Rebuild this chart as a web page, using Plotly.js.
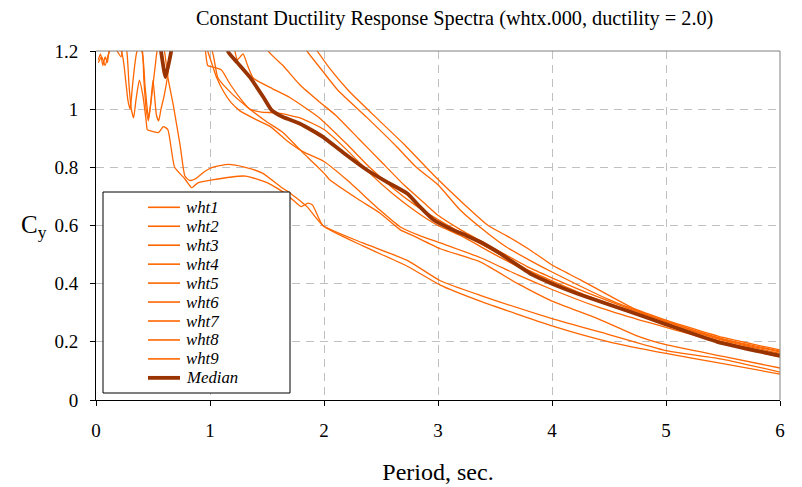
<!DOCTYPE html>
<html>
<head>
<meta charset="utf-8">
<script src="https://cdn.plot.ly/plotly-3.0.1.min.js"></script>
<style>html,body{margin:0;padding:0;background:#fff;}#chart{width:802px;height:487px;}</style>
</head>
<body>
<div id="chart"></div>
<script>
// ---- data: period (sec) and Cy for each record ----
const wht1T = [0.02,0.1,0.3,0.6,1.0,1.5,1.94,2.05,2.21,2.46,2.7,2.97,3.21,3.44,3.6,3.83,4.0,4.25,4.71,5.0,5.5,6.0];
const wht1C = [1.35,1.5,1.7,1.9,1.7,1.45,1.2,1.14,1.066,0.97,0.88,0.77,0.68,0.60,0.565,0.51,0.464,0.413,0.316,0.275,0.215,0.172];

const wht2T = [0.02,0.2,0.5,1.0,1.5,1.85,1.99,2.12,2.38,2.64,2.81,3.0,3.19,3.43,3.6,3.83,4.0,4.5,5.0,5.5,6.0];
const wht2C = [1.4,1.6,1.8,1.7,1.4,1.2,1.13,1.066,0.97,0.87,0.80,0.74,0.655,0.575,0.526,0.475,0.44,0.345,0.27,0.208,0.165];

const wht3T = [0.02,0.3,0.8,1.2,1.51,1.64,1.79,1.96,2.1,2.3,2.5,2.7,2.9,3.0,3.2,3.5,3.8,4.0,4.3,4.7,5.0,5.5,6.0];
const wht3C = [1.45,1.7,1.8,1.5,1.2,1.15,1.083,1.025,0.98,0.90,0.82,0.74,0.67,0.635,0.585,0.52,0.455,0.42,0.37,0.31,0.27,0.21,0.168];

const wht4T = [0.02,0.4,0.8,1.1,1.2,1.24,1.29,1.33,1.38,1.55,1.7,1.96,2.2,2.4,2.6,2.8,3.0,3.2,3.5,3.8,4.0,4.3,4.7,5.0,5.5,6.0];
const wht4C = [1.5,1.6,1.5,1.3,1.23,1.17,1.19,1.15,1.107,1.07,1.04,0.97,0.88,0.80,0.73,0.67,0.62,0.575,0.51,0.445,0.41,0.36,0.305,0.265,0.205,0.16];

const wht5T = [0.02,0.05,0.08,0.11,0.15,0.22,0.25,0.4,0.43,0.46,0.48,0.5,0.53,0.55,0.57,0.6,0.63,0.66,0.8,0.94,0.96,0.98,1.02,1.1,1.17,1.26,1.35,1.45,1.59,1.79,2.0,2.2,2.4,2.6,2.8,3.0,3.2,3.5,3.8,4.0,4.3,4.7,5.0,5.5,6.0];
const wht5C = [1.16,1.18,1.15,1.19,1.22,1.18,1.25,1.2,1.08,0.97,1.02,1.1,0.98,0.96,1.0,1.05,1.12,1.22,1.4,1.25,1.2,1.15,1.145,1.135,1.09,1.04,1.0,0.99,0.987,0.97,0.93,0.86,0.78,0.71,0.65,0.60,0.565,0.50,0.44,0.405,0.355,0.30,0.26,0.20,0.155];

const wht6T = [0.02,0.2,0.4,0.42,0.44,0.46,0.49,0.52,0.55,0.9,0.98,1.06,1.12,1.18,1.26,1.4,1.53,1.68,1.82,2.0,2.2,2.49,2.67,2.84,3.02,3.37,3.7,4.0,4.4,4.77,5.0,5.5,6.0];
const wht6C = [1.4,1.35,1.22,1.1,1.0,0.96,1.05,1.15,1.22,1.3,1.2,1.107,1.06,1.025,0.995,0.965,0.94,0.89,0.853,0.82,0.757,0.653,0.595,0.565,0.54,0.49,0.43,0.38,0.32,0.275,0.25,0.195,0.148];

const wht7T = [0.02,0.22,0.26,0.28,0.3,0.32,0.36,0.5,1.0,1.07,1.2,1.35,1.5,1.64,1.79,2.0,2.05,2.3,2.49,2.67,2.78,3.02,3.37,3.7,4.0,4.4,4.77,5.0,5.5,6.0];
const wht7C = [1.25,1.2,1.1,1.03,1.0,1.08,1.2,1.3,1.22,1.107,1.05,1.0,0.956,0.92,0.86,0.78,0.757,0.69,0.643,0.585,0.565,0.52,0.475,0.40,0.34,0.28,0.217,0.19,0.15,0.11];

const wht8T = [0.02,0.3,0.55,0.6,0.63,0.68,0.74,0.78,0.82,0.87,0.95,1.02,1.16,1.31,1.46,1.63,1.7,1.85,1.99,2.34,2.73,3.02,3.37,4.0,4.5,5.0,5.5,6.0];
const wht8C = [1.3,1.35,1.25,1.2,1.11,1.01,0.87,0.77,0.755,0.76,0.785,0.80,0.81,0.80,0.78,0.73,0.712,0.665,0.60,0.54,0.48,0.41,0.36,0.28,0.225,0.17,0.14,0.096];

const wht9T = [0.02,0.04,0.06,0.08,0.1,0.12,0.2,0.27,0.29,0.31,0.33,0.35,0.38,0.41,0.44,0.45,0.48,0.55,0.59,0.63,0.69,0.78,0.84,0.89,1.02,1.31,1.51,1.66,1.75,1.8,1.86,1.9,1.99,2.34,2.73,3.02,3.37,4.0,4.5,5.0,5.5,6.0];
const wht9C = [1.17,1.19,1.15,1.18,1.16,1.22,1.3,1.2,1.08,1.0,0.97,1.03,1.1,1.05,0.96,0.93,0.925,0.92,0.94,0.93,0.80,0.76,0.73,0.746,0.757,0.77,0.746,0.71,0.68,0.665,0.677,0.67,0.60,0.53,0.46,0.395,0.34,0.255,0.2,0.16,0.125,0.089];

const medianT = [0.02,0.3,0.55,0.57,0.61,0.66,0.68,0.9,1.15,1.16,1.24,1.35,1.47,1.54,1.64,1.79,1.99,2.17,2.38,2.55,2.73,2.84,2.96,3.13,3.25,3.39,3.54,3.83,4.0,4.3,4.71,5.0,5.45,6.0];
const medianC = [1.4,1.5,1.25,1.2,1.11,1.2,1.25,1.4,1.25,1.197,1.16,1.11,1.04,0.997,0.973,0.95,0.905,0.85,0.79,0.75,0.71,0.665,0.62,0.585,0.565,0.54,0.505,0.43,0.40,0.355,0.30,0.26,0.20,0.152];

const seriesNames = ["wht1","wht2","wht3","wht4","wht5","wht6","wht7","wht8","wht9","Median"];
const xTickVals = [0,1,2,3,4,5,6];
const yTickVals = [0,0.2,0.4,0.6,0.8,1.0,1.2];
const yTickText = ["0","0.2","0.4","0.6","0.8","1","1.2"];

const seriesT = [wht1T,wht2T,wht3T,wht4T,wht5T,wht6T,wht7T,wht8T,wht9T,medianT];
const seriesC = [wht1C,wht2C,wht3C,wht4C,wht5C,wht6C,wht7C,wht8C,wht9C,medianC];

const FONT = "Liberation Serif, Times New Roman, serif";
const THIN = {color: "#FF6600", width: 1.3};
const THICK = {color: "#993300", width: 3.8};

const traces = seriesNames.map((name, i) => {
  const isMed = name === "Median";
  const st = isMed ? THICK : THIN;
  return {
    type: "scatter",
    mode: "lines",
    name: name,
    x: seriesT[i],
    y: seriesC[i],
    line: {color: st.color, width: st.width, shape: "spline", smoothing: 0.5},
    showlegend: false,
    hoverinfo: "x+y+name"
  };
});

// ---- legend box drawn in plot (paper) coordinates ----
const PW = 684, PH = 349, PL = 96, PB = 400;
const px2x = p => (p - PL) / PW;
const py2y = p => (PB - p) / PH;
const legTop = 192, legBottom = 393, legLeft = 103, legRight = 290;
const rowY0 = 207.3, rowStep = 18.95;

const shapes = [
  {type: "line", xref: "paper", yref: "paper", x0: 0, x1: 1, y0: 1, y1: 1, line: {color: "#808080", width: 1}},
  {type: "line", xref: "paper", yref: "paper", x0: 1, x1: 1, y0: 0, y1: 1, line: {color: "#808080", width: 1}},
  {type: "rect", xref: "paper", yref: "paper", layer: "above",
   x0: px2x(legLeft), x1: px2x(legRight), y0: py2y(legBottom), y1: py2y(legTop),
   fillcolor: "#ffffff", line: {color: "#000000", width: 1}}
];
const annotations = [
  {text: "C<sub>y</sub>", xref: "paper", yref: "paper", x: px2x(34), y: py2y(226),
   xanchor: "center", yanchor: "middle", showarrow: false, font: {family: FONT, size: 25, color: "#000"}}
];
seriesNames.forEach((name, i) => {
  const isMed = name === "Median";
  const st = isMed ? THICK : THIN;
  const yy = py2y(rowY0 + rowStep * i);
  shapes.push({type: "line", xref: "paper", yref: "paper", layer: "above",
    x0: px2x(148), x1: px2x(180), y0: yy, y1: yy, line: {color: st.color, width: isMed ? 3.8 : 1.6}});
  annotations.push({text: name, xref: "paper", yref: "paper", x: px2x(185), y: yy,
    xanchor: "left", yanchor: "middle", showarrow: false, borderpad: 0,
    font: {family: FONT, size: 16.8, style: "italic", color: "#000"}});
});

const layout = {
  width: 802, height: 487,
  margin: {l: 96, r: 22, t: 51, b: 87},
  paper_bgcolor: "#ffffff",
  plot_bgcolor: "#ffffff",
  font: {family: FONT, size: 19, color: "#000"},
  title: {
    text: "Constant Ductility Response Spectra (whtx.000, ductility = 2.0)",
    font: {family: FONT, size: 20.3, color: "#000"},
    x: 0.567, xanchor: "center", y: 0.963, yanchor: "middle"
  },
  xaxis: {
    range: [0, 6], tickvals: xTickVals, ticktext: xTickVals.map(String),
    showgrid: true, gridcolor: "#c0c0c0", griddash: "8px,6px", gridwidth: 1,
    zeroline: false, showline: true, linecolor: "#000", linewidth: 1,
    ticks: "outside", ticklen: 5, tickcolor: "#000",
    tickfont: {family: FONT, size: 19}, ticklabelstandoff: 8,
    title: {text: "Period, sec.", font: {family: FONT, size: 24}, standoff: 23}
  },
  yaxis: {
    range: [0, 1.2], tickvals: yTickVals, ticktext: yTickText,
    showgrid: true, gridcolor: "#c0c0c0", griddash: "8px,6px", gridwidth: 1,
    zeroline: false, showline: true, linecolor: "#000", linewidth: 1,
    ticks: "outside", ticklen: 5, tickcolor: "#000",
    tickfont: {family: FONT, size: 19}, ticklabelstandoff: 8
  },
  shapes: shapes,
  annotations: annotations,
  showlegend: false
};

Plotly.newPlot("chart", traces, layout, {displayModeBar: false});
</script>
</body>
</html>
